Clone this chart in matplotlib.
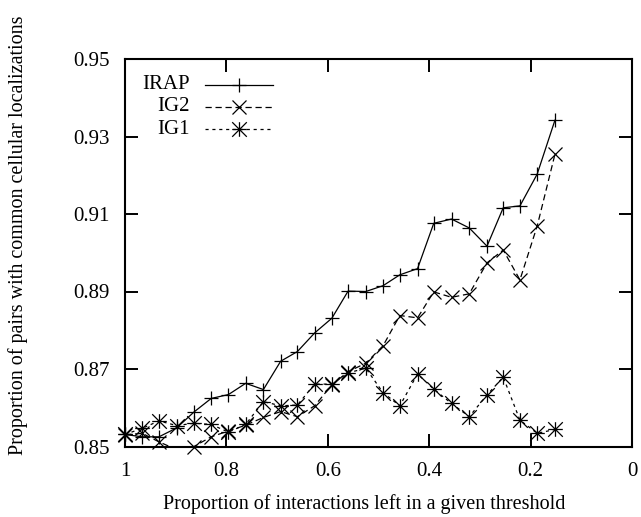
import numpy as np
import matplotlib
matplotlib.use("Agg")
import matplotlib.pyplot as plt
from matplotlib.path import Path

plt.rcParams['font.family'] = ['Liberation Serif', 'DejaVu Serif']

# proportion of interactions left at each threshold
frac = [1.000, 0.966, 0.933, 0.898, 0.864, 0.830, 0.796, 0.762, 0.727, 0.693,
        0.660, 0.626, 0.592, 0.560, 0.525, 0.491, 0.458, 0.423, 0.391, 0.356,
        0.321, 0.286, 0.254, 0.221, 0.187, 0.152]

irap = [0.8531, 0.8525, 0.8525, 0.8548, 0.8589, 0.8624, 0.8634, 0.8663, 0.8647, 0.8720,
        0.8745, 0.8793, 0.8831, 0.8901, 0.8900, 0.8915, 0.8943, 0.8959, 0.9076, 0.9087,
        0.9064, 0.9017, 0.9116, 0.9121, 0.9203, 0.9342]
ig2 = [0.8530, 0.8534, 0.8512, 0.8492, 0.8500, 0.8525, 0.8540, 0.8555, 0.8575, 0.8590,
       0.8577, 0.8605, 0.8659, 0.8693, 0.8715, 0.8760, 0.8838, 0.8832, 0.8899, 0.8885,
       0.8894, 0.8974, 0.9007, 0.8930, 0.9069, 0.9254]
ig1 = [0.8531, 0.8547, 0.8566, 0.8554, 0.8560, 0.8557, 0.8537, 0.8557, 0.8616, 0.8605,
       0.8607, 0.8661, 0.8661, 0.8690, 0.8702, 0.8639, 0.8605, 0.8687, 0.8648, 0.8611,
       0.8577, 0.8633, 0.8679, 0.8568, 0.8534, 0.8544]

labels = ["IRAP", "IG2", "IG1"]
xticks = [1, 0.8, 0.6, 0.4, 0.2, 0]
xticklabels = ["1", "0.8", "0.6", "0.4", "0.2", "0"]
yticks = [0.85, 0.87, 0.89, 0.91, 0.93, 0.95]

# gnuplot style star: plus and cross together
star = Path([(-1, 0), (1, 0), (0, -1), (0, 1), (-1, -1), (1, 1), (-1, 1), (1, -1)],
            [Path.MOVETO, Path.LINETO] * 4)

styles = [dict(ls='-', marker='+', ms=9.5),
          dict(ls=(0, (5, 3)), marker='x', ms=9.5),
          dict(ls=(0, (2.5, 3)), marker=star, ms=10.5)]

fig = plt.figure(figsize=(6.41, 5.17), dpi=100)
ax = fig.add_axes([125/641, 1 - 446.5/517, 507/641, 387.5/517])
ax.set_xlim(1, 0)
ax.set_ylim(0.85, 0.95)

x = np.array(frac)
for y, st in zip([irap, ig2, ig1], styles):
    y = np.array(y)
    ax.plot(x, y, color='black', lw=0.9, ls=st['ls'])
    m = y >= 0.85
    ax.plot(x[m], y[m], ls='none', marker=st['marker'], ms=st['ms'],
            mec='black', mew=0.9, clip_on=False)

# legend drawn gnuplot style: label, then sample
rows = [0.933, 0.877, 0.819]
for lab, st, ry in zip(labels, styles, rows):
    ax.text(0.128, ry, lab, transform=ax.transAxes, ha='right', va='center', fontsize=15)
    ax.plot([0.158, 0.2245, 0.291], [ry, ry, ry], transform=ax.transAxes,
            color='black', lw=0.9, ls=st['ls'], marker=st['marker'], ms=st['ms'],
            mew=0.9, markevery=[1], clip_on=False)

ax.set_xticks(xticks)
ax.set_xticklabels(xticklabels)
ax.set_yticks(yticks)
ax.set_yticklabels(["%.2f" % v for v in yticks])
ax.tick_params(direction='in', length=9.5, width=1.4, top=True, right=True,
               labelsize=15, pad=11)
for s in ax.spines.values():
    s.set_linewidth(1.5)

ax.set_xlabel("Proportion of interactions left in a given threshold", fontsize=14.5)
ax.set_ylabel("Proportion of pairs with common cellular localizations", fontsize=14.5)
ax.xaxis.set_label_coords(0.472, -0.122)
ax.yaxis.set_label_coords(-0.191, 0.546)

fig.savefig("out.png", dpi=100)
